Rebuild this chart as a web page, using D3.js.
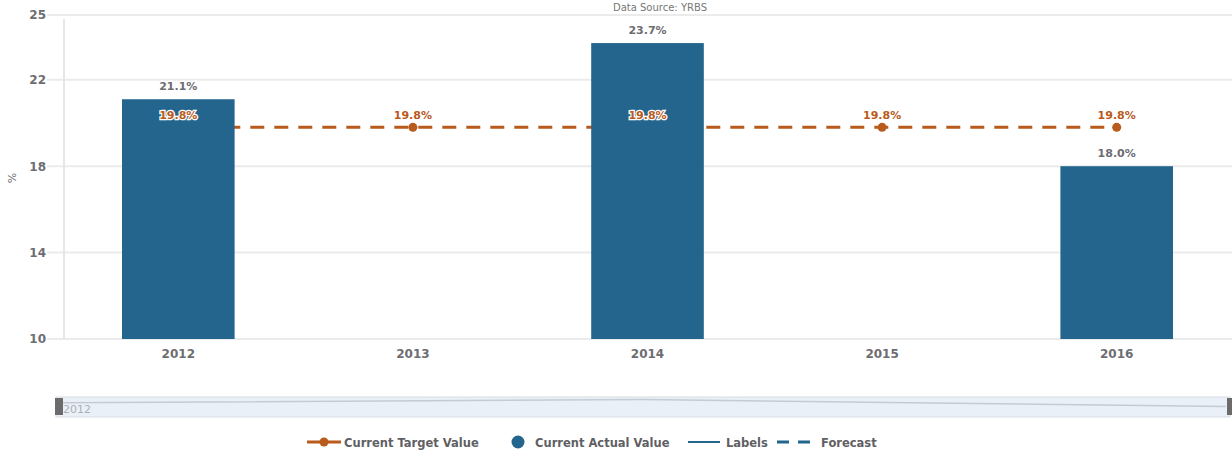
<!DOCTYPE html>
<html>
<head>
<meta charset="utf-8">
<script src="https://cdn.jsdelivr.net/npm/d3@7"></script>
<style>
  body { margin: 0; background: #fff; }
  svg { font-family: "DejaVu Sans", sans-serif; display: block; }
</style>
</head>
<body>
<svg id="chart" width="1232" height="451"></svg>
<script>
// valeurs
const years = ['2012', '2013', '2014', '2015', '2016'];
const actual = [21.1, null, 23.7, null, 18.0];
const target = [19.8, 19.8, 19.8, 19.8, 19.8];
const yTicks = [10, 14, 18, 22, 25];
const legendItems = ['Current Target Value', 'Current Actual Value', 'Labels', 'Forecast'];

const blue = '#23658c', orange = '#b95b1c', grey = '#6d6d72';
const svg = d3.select('#chart');
const m = {left: 61, right: -2, top: 15, bottom: 112};
const W = 1232, H = 451;

let x = d3.scaleBand().domain(years).range([m.left, W - m.right]).paddingInner(0.52).paddingOuter(0.26),
    y = d3.scaleLinear().domain([10, 25]).range([H - m.bottom, m.top]);
const cx = d => x(d) + x.bandwidth() / 2;

// grille
svg.append('g').selectAll('line').data(yTicks).enter()
    .append('line')
    .attr('x1', m.left - 14).attr('x2', W)
    .attr('y1', d => y(d)).attr('y2', d => y(d))
    .attr('stroke', '#ebebeb').attr('stroke-width', 2);
svg.append('line')
    .attr('x1', 64).attr('x2', 64).attr('y1', m.top + 4).attr('y2', y(10))
    .attr('stroke', '#e6e6e6').attr('stroke-width', 2);

// axe y
let yAxis = svg.append('g').attr('transform', `translate(${m.left - 15},0)`)
    .call(d3.axisLeft(y).tickValues(yTicks).tickSize(0).tickPadding(0));
yAxis.select('.domain').remove();
yAxis.selectAll('text').attr('font-size', 12).attr('font-weight', 'bold')
    .attr('fill', grey).attr('font-family', '"DejaVu Sans", sans-serif');

svg.append('text').text('%')
    .attr('transform', 'translate(16,178) rotate(-90)')
    .attr('text-anchor', 'middle').attr('font-size', 11).attr('fill', grey);

// axe x
let xAxis = svg.append('g').attr('transform', `translate(0,${y(10) + 10})`)
    .call(d3.axisBottom(x).tickSize(0).tickPadding(0));
xAxis.select('.domain').remove();
xAxis.selectAll('text').attr('font-size', 12).attr('font-weight', 'bold')
    .attr('fill', grey).attr('font-family', '"DejaVu Sans", sans-serif');

// source
svg.append('text').text('Data Source: YRBS')
    .attr('x', 660).attr('y', 11).attr('text-anchor', 'middle')
    .attr('font-size', 10).attr('fill', '#777');

// ligne cible (derrière les barres)
const tData = years.map((yr, i) => ({yr, v: target[i]}));
svg.append('path')
    .attr('d', d3.line().x(d => cx(d.yr)).y(d => y(d.v))(tData))
    .attr('fill', 'none').attr('stroke', orange).attr('stroke-width', 3)
    .attr('stroke-dasharray', '14,10');
svg.append('g').selectAll('circle').data(tData).enter()
    .append('circle')
    .attr('cx', d => cx(d.yr)).attr('cy', d => y(d.v)).attr('r', 4.5)
    .attr('fill', orange);

// barres
const aData = years.map((yr, i) => ({yr, v: actual[i]})).filter(d => d.v != null);
svg.append('g').selectAll('rect').data(aData).enter()
    .append('rect')
    .attr('x', d => x(d.yr)).attr('width', x.bandwidth())
    .attr('y', d => y(d.v)).attr('height', d => y(10) - y(d.v))
    .attr('fill', blue);

svg.append('g').selectAll('text').data(aData).enter()
    .append('text')
    .text(d => d.v.toFixed(1) + '%')
    .attr('x', d => cx(d.yr)).attr('y', d => y(d.v) - 9)
    .attr('text-anchor', 'middle').attr('font-size', 11).attr('font-weight', 'bold')
    .attr('fill', grey).attr('stroke', '#fff').attr('stroke-width', 3)
    .attr('paint-order', 'stroke');

svg.append('g').selectAll('text').data(tData).enter()
    .append('text')
    .text(d => d.v.toFixed(1) + '%')
    .attr('x', d => cx(d.yr)).attr('y', d => y(d.v) - 8)
    .attr('text-anchor', 'middle').attr('font-size', 11).attr('font-weight', 'bold')
    .attr('fill', orange).attr('stroke', '#fff').attr('stroke-width', 2.5)
    .attr('paint-order', 'stroke');

// navigateur
const nav = svg.append('g');
nav.append('rect').attr('x', 56).attr('y', 397).attr('width', 1174).attr('height', 20)
    .attr('fill', '#eaf0f7').attr('stroke', '#d8dde3');
let nx = d3.scalePoint().domain(years).range([62, 1226]),
    ny = d3.scaleLinear().domain([10, 25]).range([416, 398]);
nav.append('path')
    .attr('d', d3.line().x(d => nx(d.yr)).y(d => ny(d.v))(aData))
    .attr('fill', 'none').attr('stroke', '#c3cbd4').attr('stroke-width', 1.5);
nav.append('text').text('2012').attr('x', 63).attr('y', 413)
    .attr('font-size', 11).attr('fill', '#aab0b8');
nav.append('rect').attr('x', 55).attr('y', 398).attr('width', 8).attr('height', 17).attr('fill', '#6b6b6b');
nav.append('rect').attr('x', 1227).attr('y', 398).attr('width', 6).attr('height', 17).attr('fill', '#6b6b6b');

// légende
const lg = svg.append('g').attr('transform', 'translate(0,442)');
const lx = [307, 508, 688, 777];
legendItems.forEach((t, i) => {
    let g = lg.append('g').attr('transform', `translate(${lx[i]},0)`), tx = 37;
    if (i == 0) {
        g.append('line').attr('x1', 0).attr('x2', 34).attr('stroke', orange).attr('stroke-width', 3);
        g.append('circle').attr('cx', 17).attr('r', 4.5).attr('fill', orange);
    } else if (i == 1) {
        g.append('circle').attr('cx', 10).attr('r', 6.5).attr('fill', blue);
        tx = 27;
    } else if (i == 2) {
        g.append('line').attr('x1', 0).attr('x2', 32).attr('stroke', blue).attr('stroke-width', 2);
        tx = 38;
    } else {
        g.append('line').attr('x1', 0).attr('x2', 33).attr('stroke', blue).attr('stroke-width', 3)
            .attr('stroke-dasharray', '12,9');
        tx = 44;
    }
    g.append('text').text(t).attr('x', tx).attr('y', 4.5)
        .attr('font-size', 11.5).attr('font-weight', 'bold').attr('fill', '#5f5f64');
});
</script>
</body>
</html>
